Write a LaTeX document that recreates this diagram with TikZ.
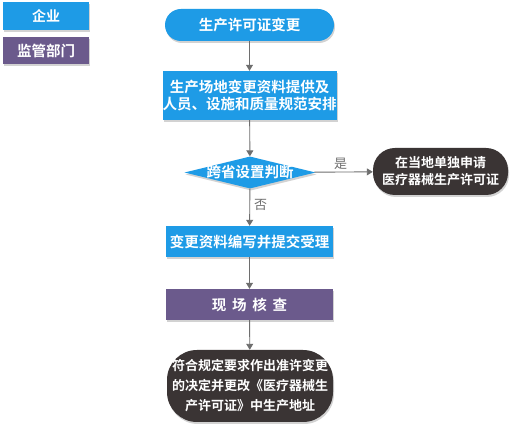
\documentclass[tikz,border=0pt]{standalone}
\usepackage{fontspec}
\setmainfont{Noto Sans CJK SC}[BoldFont={* Bold}]
\usetikzlibrary{shapes.geometric,shadows,arrows.meta}
\definecolor{cblue}{HTML}{1E9BE6}
\definecolor{cpurple}{HTML}{6B5A8C}
\definecolor{cdark}{HTML}{3A3434}
\definecolor{cline}{HTML}{6E6E6E}
\begin{document}
\begin{tikzpicture}[x=1pt,y=-1pt,
  shd/.style={drop shadow={opacity=0.35,shadow xshift=1pt,shadow yshift=-2pt}},
  txt/.style={text=white,font=\bfseries\fontsize{14.5}{17}\selectfont,align=center,inner sep=0pt},
  bluebox/.style={shd,fill=cblue,txt,minimum width=167pt},
  purplebox/.style={shd,fill=cpurple,txt,minimum width=167pt},
  arr/.style={draw=cline,line width=0.9pt,-{Triangle[width=7pt,length=6pt]}},
  lbl/.style={text=cline,font=\fontsize{13}{15}\selectfont,inner sep=1pt}]
\useasboundingbox (0,0) rectangle (512,427);
\fill[white] (0,0) rectangle (512,427);
% legend
\node[shd,fill=cblue,txt,minimum width=86pt,minimum height=28pt,font=\bfseries\fontsize{14}{16}\selectfont] (lg1) at (46,16) {企业};
\node[shd,fill=cpurple,txt,minimum width=86pt,minimum height=27pt,font=\bfseries\fontsize{14.5}{16}\selectfont] (lg2) at (46,50.5) {监管部门};
% flow
\node[bluebox,rounded corners=16pt,minimum height=32pt,minimum width=169pt] (n1) at (249.5,25) {生产许可证变更};
\node[bluebox,minimum height=49pt] (n2) at (249.5,95.5) {生产场地变更资料提供及\\人员、设施和质量规范安排};
\node[shd,diamond,fill=cblue,minimum width=131pt,minimum height=32pt,inner sep=0pt] (d) at (250,172.5) {};
\node[txt] (dt) at (d.center) {跨省设置判断};
\node[shd,fill=cdark,txt,rounded corners=22pt,minimum width=135pt,minimum height=47pt,font=\bfseries\fontsize{13}{17}\selectfont] (r) at (440.5,171.5) {在当地单独申请\\医疗器械生产许可证};
\node[bluebox,minimum height=31pt] (n3) at (249.5,241.5) {变更资料编写并提交受理};
\node[purplebox,minimum height=31pt] (n4) at (249.5,304.5) {现\hspace{0.4em}场\hspace{0.4em}核\hspace{0.4em}查};
\node[shd,fill=cdark,txt,rounded corners=30pt,minimum width=166pt,minimum height=72pt,font=\bfseries\fontsize{13}{20}\selectfont] (n5) at (250,386) {符合规定要求作出准许变更\\的决定并更改《医疗器械生\\产许可证》中生产地址};
% connectors
\draw[arr] (n1) -- (n2);
\draw[arr] (n2) -- (d);
\draw[arr] (d) -- node[lbl,right=3pt,pos=0.45] {否} (n3);
\draw[arr] (d) -- node[lbl,above=1pt,pos=0.45] {是} (r);
\draw[arr] (n3) -- (n4);
\draw[arr] (n4) -- (n5);
\end{tikzpicture}
\end{document}
